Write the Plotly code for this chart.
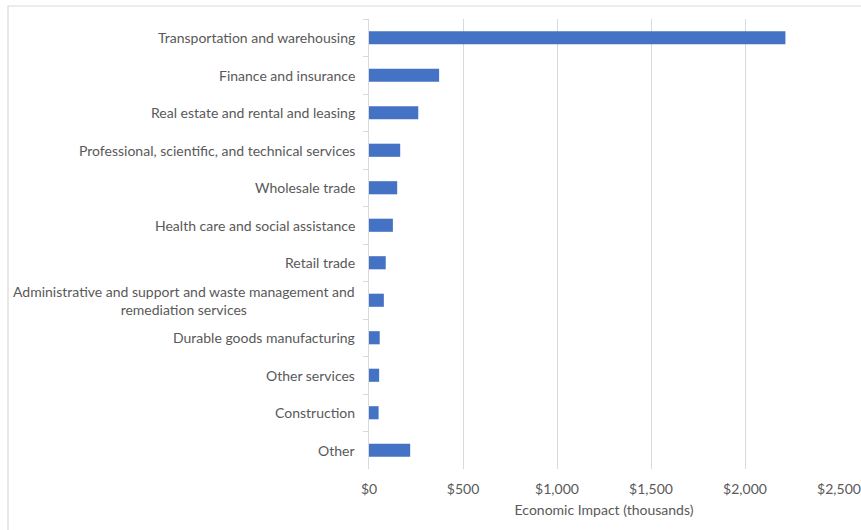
import plotly.graph_objects as go

# Industries, listed top to bottom as they appear on the chart
industries = [
    "Transportation and warehousing",
    "Finance and insurance",
    "Real estate and rental and leasing",
    "Professional, scientific, and technical services",
    "Wholesale trade",
    "Health care and social assistance",
    "Retail trade",
    "Administrative and support and waste management and<br>remediation services",
    "Durable goods manufacturing",
    "Other services",
    "Construction",
    "Other",
]
# Economic impact in thousands of dollars
impact = [2215, 373, 262, 166, 150, 127, 89, 79, 57, 54, 51, 219]

x_ticks = [0, 500, 1000, 1500, 2000, 2500]
x_tick_labels = ["$0", "$500", "$1,000", "$1,500", "$2,000", "$2,500"]

FONT = "Lato"
GRAY = "#595959"
W, H = 861, 530
ML, MR, MT, MB = 369, 22, 19, 61
PW, PH = W - ML - MR, H - MT - MB

fig = go.Figure(
    go.Bar(
        x=impact,
        y=industries,
        orientation="h",
        marker=dict(color="#4472C4", line=dict(width=0)),
        hoverinfo="x+y",
    )
)

# Category labels, centred line by line like the original chart
label_annotations = [
    dict(
        x=-12 / PW, xref="paper", y=name, yref="y",
        text=name, showarrow=False,
        xanchor="right", yanchor="middle", align="center",
        font=dict(family=FONT, size=14, color=GRAY),
    )
    for name in industries
]

fig.update_layout(
    width=W,
    height=H,
    margin=dict(l=ML, r=MR, t=MT, b=MB, autoexpand=False),
    paper_bgcolor="white",
    plot_bgcolor="white",
    bargap=0.65,
    showlegend=False,
    font=dict(family=FONT, size=14, color=GRAY),
    annotations=label_annotations,
    shapes=[
        # light chart frame
        dict(type="rect", xref="paper", yref="paper",
             x0=(8 - ML) / PW, x1=1.2, y0=-0.3, y1=(H - 6 - MB) / PH,
             line=dict(color="#d9d9d9", width=1.2), layer="below"),
    ],
)

fig.update_xaxes(
    range=[0, 2500],
    tickvals=x_ticks,
    ticktext=x_tick_labels,
    showgrid=True,
    gridcolor="#d9d9d9",
    gridwidth=1,
    zeroline=False,
    showline=False,
    ticks="",
    automargin=False,
    ticklabelstandoff=10,
    tickfont=dict(family=FONT, size=14, color=GRAY),
    title=dict(text="Economic Impact (thousands)", standoff=9,
               font=dict(family=FONT, size=14, color=GRAY)),
)

fig.update_yaxes(
    autorange="reversed",
    showgrid=False,
    showline=True,
    linecolor="#d9d9d9",
    linewidth=1,
    ticks="outside",
    tickson="boundaries",
    ticklen=5,
    tickcolor="#d9d9d9",
    showticklabels=False,
    automargin=False,
)

fig.write_html("out.html")
